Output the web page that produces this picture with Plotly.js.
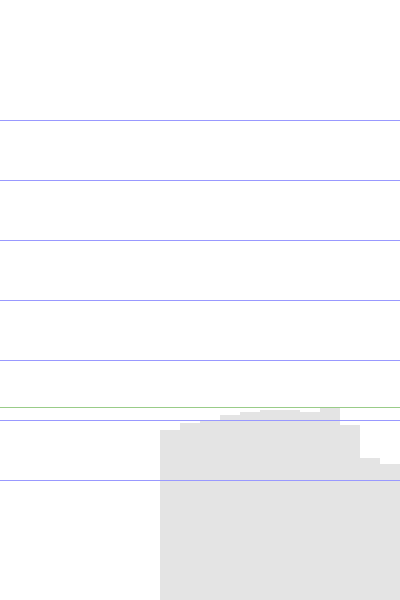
<!DOCTYPE html>
<html>
<head>
<meta charset="utf-8">
<script src="https://cdn.plot.ly/plotly-3.0.1.min.js"></script>
<style>
  html, body { margin: 0; padding: 0; background: #fff; }
  #chart { width: 400px; height: 600px; }
</style>
</head>
<body>
<div id="chart"></div>
<script>
// bar positions and heights
var binIndex = [0, 1, 2, 3, 4, 5, 6, 7, 8, 9, 10, 11];
var binValues = [17.0, 17.7, 18.0, 18.5, 18.8, 19.0, 19.0, 18.8, 19.2, 17.5, 14.2, 13.6];
var refLevel = 19.25;

var data = [
  {
    type: "bar",
    x: binIndex,
    y: binValues,
    width: 1,
    marker: { color: "#e4e4e4", line: { width: 0 } },
    hoverinfo: "skip",
    xaxis: "x",
    yaxis: "y"
  },
  // empty trace so the grid axis gets drawn on top
  {
    type: "scatter",
    mode: "markers",
    x: [],
    y: [],
    xaxis: "x2",
    yaxis: "y2",
    showlegend: false
  }
];

var layout = {
  width: 400,
  height: 600,
  margin: { l: 0, r: 0, t: 0, b: 0 },
  paper_bgcolor: "#ffffff",
  plot_bgcolor: "rgba(0,0,0,0)",
  showlegend: false,
  bargap: 0,
  xaxis: {
    range: [-8.5, 11.5],
    showgrid: false, zeroline: false, showticklabels: false, showline: false
  },
  yaxis: {
    range: [0, 60],
    showgrid: false, zeroline: false, showticklabels: false, showline: false
  },
  xaxis2: {
    anchor: "y2",
    range: [0, 1],
    showgrid: false, zeroline: false, showticklabels: false, showline: false
  },
  yaxis2: {
    anchor: "x2",
    domain: [0.1, 0.9],
    range: [-1, 7],
    tick0: 0,
    dtick: 1,
    showgrid: true,
    gridcolor: "#9999ff",
    gridwidth: 1,
    zeroline: false, showticklabels: false, showline: false
  },
  shapes: [{
    type: "line",
    xref: "paper", x0: 0, x1: 1,
    yref: "y", y0: refLevel, y1: refLevel,
    line: { color: "#99cc88", width: 1 },
    layer: "above"
  }]
};

Plotly.newPlot("chart", data, layout, { displayModeBar: false, staticPlot: true });
</script>
</body>
</html>
